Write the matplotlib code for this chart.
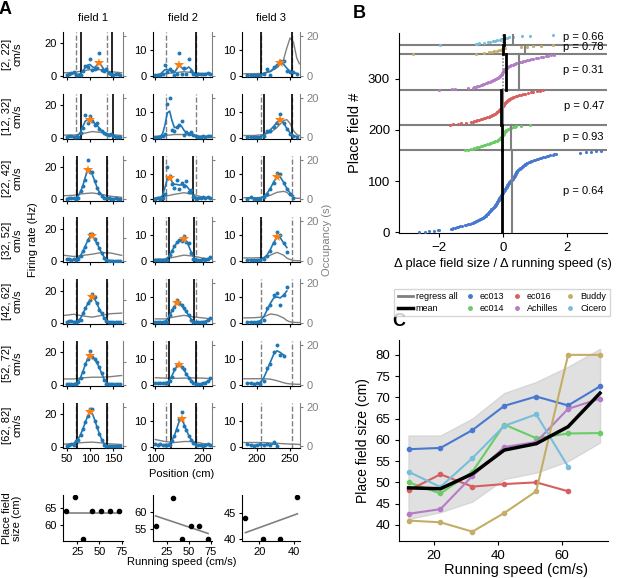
import numpy as np
import matplotlib
matplotlib.use('Agg')
import matplotlib.pyplot as plt
from matplotlib.lines import Line2D
from matplotlib.transforms import blended_transform_factory

plt.rcParams['font.family'] = ['Liberation Sans', 'DejaVu Sans']
plt.rcParams['axes.linewidth'] = 0.8
plt.rcParams['xtick.major.size'] = 3
plt.rcParams['ytick.major.size'] = 3

nan = np.nan

# ---------------- panel A data ----------------
speed_bins = ['[2, 22]', '[12, 32]', '[22, 42]', '[32, 52]',
              '[42, 62]', '[52, 72]', '[62, 82]']
speeds = [12, 22, 32, 42, 52, 62, 72]

pos1 = np.arange(50, 166, 5)
pos2 = np.arange(100, 216, 5)
pos3 = np.arange(185, 261, 5)

rate1 = [
    [0.3, 1.0, 1.5, 2.0, 0.5, 0.3, 0.5, 3.0, 6.0, 5.5, 10.5, 3.5, 4.0, 4.5, 14.0, 3.5, 3.0, 4.0, 1.5, 1.0, 0.5, 0.8, 1.0, 0.5],
    [0.5, 0.8, 1.0, 0.5, 0.3, 0.5, 3.0, 6.0, 14.0, 9.0, 13.0, 10.0, 8.0, 9.0, 5.0, 4.0, 3.0, 2.0, 1.5, 2.0, 1.0, 0.5, 0.5, 0.3],
    [0.3, 0.5, 1.0, 0.5, 0.3, 1.0, 5.0, 8.0, 12.0, 24.0, 17.0, 17.0, 11.0, 7.0, 4.0, 2.0, 1.0, 0.5, 0.5, 0.3, 0.3, 0.5, 0.3, 0.3],
    [1.0, 1.5, 0.5, 1.0, 0.8, 1.5, 3.0, 6.0, 9.0, 13.0, 16.5, 17.0, 13.5, 11.0, 8.0, 5.0, 2.0, 0.5, 0.3, 0.3, 0.2, 0.2, 0.2, 0.2],
    [0.5, 1.0, 1.0, 0.5, 0.8, 1.0, 2.0, 6.0, 9.0, 12.0, 14.0, 18.0, 16.0, 12.0, 8.0, 6.0, 3.0, 1.0, 0.5, 0.3, 0.3, 0.3, 0.3, 0.3],
    [0.5, 0.3, 0.5, 0.3, 0.5, 1.5, 4.0, 8.0, 13.0, 16.0, 21.0, 17.0, 16.0, 14.0, 11.0, 7.0, 3.0, 0.5, 0.3, 0.3, 0.3, 0.3, 0.3, 0.3],
    [0.5, 1.0, 1.5, 1.0, 3.5, 4.0, 7.0, 11.0, 15.0, 19.0, 23.0, 23.0, 16.0, 12.0, 8.0, 4.0, 1.0, 0.3, 0.3, 0.3, 0.3, 0.3, 0.3, 0.3],
]
rate2 = [
    [0.2, 0.3, 0.2, 0.8, 4.0, 1.5, 2.5, 2.0, 0.3, 0.5, 9.0, 0.5, 3.0, 0.5, 6.5, 2.0, 0.5, 0.3, 0.5, 0.8, 0.5, 0.8, 1.0, 0.8],
    [0.3, 0.2, 0.3, 0.5, 1.5, 13.0, 15.5, 3.0, 2.5, 4.0, 5.0, 6.5, 1.0, 2.0, 1.5, 2.0, 1.0, 0.5, 0.3, 0.3, 0.5, 0.3, 0.5, 0.5],
    [0.3, 0.5, 0.3, 0.5, 2.0, 12.5, 9.0, 6.0, 4.5, 7.5, 4.0, 6.5, 5.0, 7.0, 3.0, 3.5, 1.0, 0.3, 0.5, 0.5, 1.0, 0.5, 0.8, 0.5],
    [0.3, 0.3, 0.5, 0.3, 0.5, 0.3, 2.4, 4.0, 5.7, 7.6, 8.3, 8.0, 9.6, 7.5, 7.0, 3.0, 1.0, 0.5, 0.3, 0.5, 0.8, 0.5, 1.0, 1.5],
    [0.3, 0.5, 0.3, 0.5, 0.3, 0.5, 3.0, 5.0, 6.3, 9.0, 7.6, 7.0, 5.7, 4.5, 3.0, 1.0, 0.3, 0.3, 0.5, 0.3, 0.3, 0.5, 1.0, 2.0],
    [0.5, 0.5, 0.5, 0.5, 0.5, 0.5, 1.5, 3.0, 6.2, 7.5, 8.2, 7.0, 6.2, 4.0, 2.7, 1.5, 0.7, 0.3, 0.3, 0.3, 0.5, 0.5, 1.5, 2.5],
    [0.8, 0.5, 1.0, 0.5, 0.5, 0.5, 0.5, 2.0, 4.0, 6.5, 10.6, 13.6, 7.8, 6.5, 4.0, 2.6, 1.5, 0.6, 0.5, 0.5, 0.3, 0.5, 0.8, 0.5],
]
rate3 = [
    [0.1, 0.1, 0.1, 0.1, 0.1, 0.5, 2.6, 0.2, 3.2, 4.0, 5.8, 5.8, 2.0, 1.3, 1.3, 0.6],
    [0.1, 0.1, 0.1, 0.1, 0.1, 0.5, 2.6, 2.6, 4.0, 5.8, 9.0, 5.8, 3.2, 1.3, 0.4, 0.2],
    [0.2, 1.0, 0.2, 0.2, 0.3, 0.8, 2.0, 3.9, 6.5, 10.4, 10.0, 6.5, 3.9, 2.0, 0.6, nan],
    [0.5, 0.3, 0.5, 0.5, 0.5, 0.7, 2.0, 4.0, 7.0, 11.4, 10.0, 7.0, 3.5, nan, nan, nan],
    [0.3, 0.3, 0.5, 0.3, 0.3, 1.3, 5.8, 7.0, 11.0, 11.7, 7.0, 11.0, 14.0, nan, nan, nan],
    [0.8, 0.5, 0.3, 0.5, 0.3, 1.3, 6.5, 8.0, 12.6, 15.6, 11.7, 11.0, nan, nan, nan, nan],
    [0.8, 0.5, 0.3, 0.5, 1.0, 0.5, 0.8, 0.5, 1.7, 0.3, nan, nan, nan, nan, nan, nan],
]

occ_x1 = [45, 65, 85, 105, 125, 145, 168]
occ_x2 = [100, 120, 140, 160, 180, 200, 217]
occ_x3 = [180, 195, 210, 220, 230, 240, 245, 250, 255, 260, 264]
occ1 = [
    [1.5, 1.6, 2.5, 3.2, 3.0, 2.0, 1.5],
    [1.2, 1.2, 2.0, 3.0, 2.5, 1.5, 1.0],
    [1.8, 2.0, 2.8, 3.2, 2.5, 1.5, 1.0],
    [5.0, 4.0, 5.0, 6.0, 7.5, 7.0, 5.0],
    [6.5, 7.5, 6.0, 5.0, 6.5, 8.0, 8.5],
    [5.0, 5.0, 6.0, 6.5, 6.5, 7.0, 8.0],
    [1.2, 1.5, 2.0, 2.2, 1.8, 1.3, 1.0],
]
occ2 = [
    [0.5, 1.0, 1.5, 2.0, 1.5, 1.0, 0.5],
    [0.5, 1.0, 1.5, 1.5, 1.0, 0.5, 0.5],
    [0.8, 1.5, 2.5, 3.3, 2.5, 1.0, 0.5],
    [1.0, 1.0, 2.0, 3.0, 2.5, 1.5, 1.0],
    [2.0, 2.0, 3.0, 3.8, 3.0, 2.5, 2.0],
    [3.5, 3.3, 3.2, 3.3, 3.4, 3.3, 3.0],
    [3.5, 2.5, 2.0, 2.5, 2.5, 1.5, 1.0],
]
occ3 = [
    [1.0, 1.0, 1.2, 2.0, 4.0, 8.0, 14.0, 19.0, 17.0, 9.0, 6.0],
    [1.0, 1.0, 1.5, 2.5, 5.0, 8.5, 9.0, 7.0, 3.5, 1.5, 1.0],
    [0.8, 0.8, 1.0, 2.0, 3.5, 4.0, 3.5, 2.0, 1.0, 0.5, 0.5],
    [1.6, 1.6, 1.8, 3.0, 4.4, 3.0, 1.5, 0.8, 0.3, 0.2, 0.2],
    [2.5, 2.6, 3.0, 4.5, 4.0, 2.5, 1.2, 0.5, 0.3, 0.2, 0.2],
    [3.0, 3.0, 3.0, 2.8, 2.0, 1.0, 0.6, 0.4, 0.3, 0.2, 0.2],
    [2.0, 2.0, 2.0, 1.8, 1.6, 1.4, 1.3, 1.2, 1.2, 1.1, 1.0],
]

# field boundaries (cm): reference (dashed) and per speed bin (solid)
ref_bounds = [(71, 136), (123, 185), (206, 253)]
bounds1 = [(81, 148), (80, 149), (72, 136), (72, 136), (72, 136), (72, 136), (72, 136)]
bounds2 = [(185,), (), (117, 179), (129, 181), (129, 182), (129, 185), (133, 185)]
bounds3 = [(206, 253), (210, 253), (210,), (206,), (), (), ()]
has_field1 = [True] * 7
has_field2 = [True, False, True, True, True, True, True]
has_field3 = [True, True, True, True, False, False, False]

# place field size vs running speed, per field
size_speed1 = [12, 22, 32, 42, 52, 62, 72]
size1 = [64, 68, 56, 64, 64, 64, 64]
size_speed2 = [12, 32, 42, 52, 62, 72]
size2 = [56, 64, 52, 56, 56, 52]
size_speed3 = [12, 22, 32, 42]
size3 = [44, 40, 40, 48]

# ---------------- panel B data ----------------
animals = ['ec013', 'ec014', 'ec016', 'Achilles', 'Buddy', 'Cicero']
animal_colors = ['#4878CF', '#6ACC65', '#D65F5F', '#B47CC7', '#C4AD66', '#77BEDB']
slopes_ec013 = [
    -2.62, -2.45, -2.30, -2.15, -2.02, -2.00, -1.62, -1.58, -1.55, -1.50,
    -1.45, -1.40, -1.35, -1.28, -1.20, -1.15, -1.10, -1.02, -0.98, -0.95,
    -0.92, -0.88, -0.85, -0.82, -0.78, -0.75, -0.72, -0.70, -0.66, -0.63,
    -0.60, -0.58, -0.56, -0.54, -0.53, -0.52, -0.50, -0.48, -0.46, -0.45,
    -0.43, -0.42, -0.40, -0.38, -0.37, -0.36, -0.34, -0.32, -0.30, -0.28,
    -0.27, -0.26, -0.25, -0.24, -0.23, -0.22, -0.21, -0.20, -0.20, -0.19,
    -0.18, -0.17, -0.16, -0.15, -0.14, -0.13, -0.12, -0.11, -0.10, -0.09,
    -0.08, -0.07, -0.06, -0.05, -0.04, -0.03, -0.02, -0.01, 0.00, 0.01,
    0.02, 0.03, 0.04, 0.05, 0.06, 0.07, 0.08, 0.09, 0.10, 0.11,
    0.12, 0.13, 0.14, 0.15, 0.16, 0.17, 0.18, 0.19, 0.20, 0.21,
    0.22, 0.24, 0.26, 0.28, 0.29, 0.30, 0.31, 0.32, 0.33, 0.34,
    0.35, 0.36, 0.37, 0.38, 0.39, 0.40, 0.41, 0.42, 0.43, 0.44,
    0.45, 0.47, 0.48, 0.50, 0.52, 0.54, 0.56, 0.58, 0.60, 0.62,
    0.64, 0.66, 0.68, 0.70, 0.72, 0.74, 0.76, 0.80, 0.84, 0.88,
    0.92, 0.96, 1.00, 1.05, 1.10, 1.15, 1.20, 1.25, 1.30, 1.36,
    1.42, 1.48, 1.55, 1.60, 1.65, 2.40, 2.60, 2.75, 2.90, 3.05,
]
slopes_ec014 = [
    -1.20, -1.10, -1.00, -0.95, -0.90, -0.85, -0.80, -0.75, -0.70, -0.65,
    -0.60, -0.55, -0.50, -0.45, -0.40, -0.36, -0.32, -0.28, -0.24, -0.20,
    -0.17, -0.15, -0.12, -0.10, -0.08, -0.06, -0.05, -0.04, -0.03, -0.02,
    -0.01, 0.00, 0.01, 0.02, 0.03, 0.04, 0.05, 0.06, 0.08, 0.10,
    0.12, 0.15, 0.18, 0.22, 0.26, 0.30, 0.36, 0.42, 0.55, 0.85,
]
slopes_ec016 = [
    -1.65, -1.55, -1.40, -1.30, -1.15, -1.00, -0.95, -0.90, -0.85, -0.80,
    -0.75, -0.70, -0.65, -0.60, -0.55, -0.50, -0.45, -0.42, -0.38, -0.35,
    -0.32, -0.28, -0.25, -0.22, -0.20, -0.18, -0.16, -0.14, -0.12, -0.10,
    -0.08, -0.06, -0.05, -0.04, -0.03, -0.02, -0.01, 0.00, 0.01, 0.02,
    0.03, 0.04, 0.05, 0.06, 0.08, 0.10, 0.12, 0.14, 0.16, 0.18,
    0.20, 0.23, 0.26, 0.29, 0.32, 0.35, 0.40, 0.45, 0.50, 0.55,
    0.62, 0.70, 0.78, 0.86, 0.95, 1.05, 1.15, 1.25,
]
slopes_achilles = [
    -2.00, -1.60, -1.50, -1.10, -0.95, -0.90, -0.85, -0.80, -0.75, -0.70,
    -0.66, -0.62, -0.58, -0.54, -0.50, -0.46, -0.42, -0.38, -0.34, -0.30,
    -0.27, -0.24, -0.21, -0.18, -0.16, -0.14, -0.12, -0.10, -0.08, -0.06,
    -0.05, -0.04, -0.03, -0.02, -0.01, 0.00, 0.01, 0.02, 0.03, 0.04,
    0.05, 0.07, 0.09, 0.11, 0.13, 0.16, 0.19, 0.22, 0.26, 0.30,
    0.34, 0.38, 0.42, 0.47, 0.52, 0.58, 0.64, 0.70, 0.76, 0.82,
    0.88, 0.95, 1.02, 1.10, 1.18, 1.26, 1.34, 1.42, 1.50, 1.60,
]
slopes_buddy = [
    -2.80, -0.85, -0.60, -0.45, -0.35, -0.28, -0.20, -0.12, -0.06, -0.02,
    0.00, 0.02, 0.05, 0.55, 0.75, 0.95, 1.20, 1.55,
]
slopes_cicero = [
    -1.98, -0.85, -0.80, -0.75, -0.60, -0.48, -0.40, -0.32, -0.25, -0.18,
    -0.10, -0.05, 0.00, 0.05, 0.12, 0.20, 0.32, 0.60, 0.85, 1.55,
]
slopes = [slopes_ec013, slopes_ec014, slopes_ec016, slopes_achilles, slopes_buddy, slopes_cicero]
regress_slope = [0.27, 0.25, -0.01, 0.50, 0.68, 0.31]
mean_slope = [-0.03, -0.02, -0.06, 0.08, 0.01, 0.02]
p_values = ['p = 0.64', 'p = 0.93', 'p = 0.47', 'p = 0.31', 'p = 0.78', 'p = 0.66']
p_y = [80, 187, 246, 316, 361, 382]

# ---------------- panel C data ----------------
speed_c = [12, 22, 32, 42, 52, 62, 72]
size_ec013 = [57.8, 58.1, 62.3, 68.0, 70.2, 68.1, 72.6]
size_ec014 = [50.0, 47.4, 52.5, 63.6, 60.4, 61.5, 61.6]
size_ec016 = [48.1, 51.9, 49.0, 49.6, 50.0, 47.9]
size_achilles = [42.6, 43.7, 51.5, 58.3, 59.5, 67.3, 69.7]
size_buddy = [41.0, 40.6, 38.4, 42.8, 47.9, 80.0, 80.0]
size_cicero = [52.5, 48.9, 55.7, 63.3, 66.0, 53.7]
size_mean = [48.7, 48.5, 52.0, 57.6, 59.1, 63.1, 71.0]
band_lo = [41.4, 43.0, 45.5, 50.8, 52.3, 55.0, 59.4]
band_hi = [61.0, 61.0, 65.0, 71.0, 73.6, 77.2, 81.4]
animal_sizes = [size_ec013, size_ec014, size_ec016, size_achilles, size_buddy, size_cicero]

# ---------------- figure ----------------
W, H = 617, 578
fig = plt.figure(figsize=(W / 100, H / 100), dpi=100)


def axes_px(l, t, w, h):
    return fig.add_axes([l / W, 1 - (t + h) / H, w / W, h / H])


def smooth(v, sigma=1.0):
    v = np.asarray(v, float)
    k = np.exp(-0.5 * (np.arange(-3, 4) / sigma) ** 2)
    ok = ~np.isnan(v)
    num = np.convolve(np.where(ok, v, 0.0), k, 'same')
    den = np.convolve(ok.astype(float), k, 'same')
    out = num / den
    out[~ok] = nan
    return out


fields = [
    dict(pos=pos1, rates=rate1, ox=occ_x1, occ=occ1, bounds=bounds1, star=has_field1,
         left=63, width=60, xlim=(42, 171), ylim=(-0.8, 27), yt=[0, 20], xt=[50, 100, 150],
         otop=[22, 22, 22, 38, 38, 38, 22]),
    dict(pos=pos2, rates=rate2, ox=occ_x2, occ=occ2, bounds=bounds2, star=has_field2,
         left=153, width=59, xlim=(95, 219), ylim=(-0.5, 17), yt=[0, 10], xt=[100, 200],
         otop=[22] * 7),
    dict(pos=pos3, rates=rate3, ox=occ_x3, occ=occ3, bounds=bounds3, star=has_field3,
         left=242, width=58, xlim=(177, 265), ylim=(-0.5, 17), yt=[0, 10], xt=[200, 250],
         otop=[22] * 7),
]

row_top = 32
row_step = 61.8
row_h = 45
fs_a = 8

for j, f in enumerate(fields):
    for i in range(7):
        ax = axes_px(f['left'], row_top + i * row_step, f['width'], row_h)
        tw = ax.twinx()
        tw.plot(f['ox'], f['occ'][i], color='0.5', lw=1)
        top = f['otop'][i]
        tw.set_ylim(-0.03 * top, top)
        tw.set_yticks([0, 20])
        tw.tick_params(axis='y', colors='0.5', labelsize=fs_a, length=2.5, pad=2)
        if j < 2:
            tw.set_yticklabels([])
        for s in ['top', 'left', 'bottom']:
            tw.spines[s].set_visible(False)
        tw.spines['right'].set_color('0.5')
        ax.set_zorder(tw.get_zorder() + 1)
        ax.patch.set_visible(False)

        for xd in ref_bounds[j]:
            ax.axvline(xd, color='0.5', ls='--', lw=1)
        for xs in f['bounds'][i]:
            ax.axvline(xs, color='k', lw=1.2)
        r = np.array(f['rates'][i], float)
        sm = smooth(r)
        ax.plot(f['pos'], sm, color='C0', lw=1.2)
        ax.scatter(f['pos'], r, s=8, color='C0', lw=0, zorder=3)
        if f['star'][i]:
            k = np.nanargmax(sm)
            ax.plot(f['pos'][k], sm[k], '*', color='C1', ms=7, mew=0, zorder=4)
        ax.set_xlim(*f['xlim'])
        ax.set_ylim(*f['ylim'])
        ax.set_yticks(f['yt'])
        ax.set_xticks(f['xt'])
        ax.tick_params(labelsize=fs_a, length=2.5, pad=2)
        ax.tick_params(axis='x', labelbottom=(i == 6))
        ax.spines['top'].set_visible(False)
        ax.spines['right'].set_visible(False)

for i, lab in enumerate(speed_bins):
    fig.text(12 / W, 1 - (row_top + i * row_step + row_h / 2) / H, lab + '\ncm/s',
             rotation=90, ha='center', va='center', fontsize=fs_a, linespacing=1.1)

for j, name in enumerate(['field 1', 'field 2', 'field 3']):
    f = fields[j]
    fig.text((f['left'] + f['width'] / 2) / W, 1 - 18 / H, name,
             ha='center', va='center', fontsize=fs_a)

fig.text(33 / W, 1 - 240 / H, 'Firing rate (Hz)', rotation=90, ha='center', va='center', fontsize=fs_a)
fig.text(327 / W, 1 - 240 / H, 'Occupancy (s)', rotation=90, ha='center', va='center',
         fontsize=fs_a, color='0.5')
fig.text(182 / W, 1 - 474 / H, 'Position (cm)', ha='center', va='center', fontsize=fs_a)

# size vs speed row
size_rows = [
    (size_speed1, size1, (9, 76.5), (55.4, 68.6), [25, 50, 75], [60, 65]),
    (size_speed2, size2, (9, 76.5), (51.5, 65.0), [25, 50, 75], [55, 60]),
    (size_speed3, size3, (10, 43.5), (39.6, 48.4), [20, 40], [40, 45]),
]
for j, (sx, sy, xl, yl, xtk, ytk) in enumerate(size_rows):
    f = fields[j]
    ax = axes_px(f['left'], 495, f['width'], 46)
    ax.scatter(sx, sy, s=9, color='k', zorder=3)
    b, a = np.polyfit(sx, sy, 1)
    xx = np.array([min(sx), max(sx)])
    ax.plot(xx, a + b * xx, color='0.5', lw=1.2)
    ax.set_xlim(*xl)
    ax.set_ylim(*yl)
    ax.set_xticks(xtk)
    ax.set_yticks(ytk)
    ax.tick_params(labelsize=fs_a, length=2.5, pad=2)
    ax.spines['top'].set_visible(False)
    ax.spines['right'].set_visible(False)

fig.text(12 / W, 1 - 518 / H, 'Place field\nsize (cm)', rotation=90, ha='center', va='center',
         fontsize=fs_a, linespacing=1.1)
fig.text(182 / W, 1 - 562 / H, 'Running speed (cm/s)', ha='center', va='center', fontsize=fs_a)

# ---------------- panel B ----------------
axB = axes_px(399, 33, 208, 200)
trB = blended_transform_factory(axB.transAxes, axB.transData)
start = 0
for g in range(len(animals)):
    vals = slopes[g]
    n = len(vals)
    y = start + np.arange(n)
    axB.scatter(vals, y, s=5, color=animal_colors[g], lw=0, zorder=3)
    axB.plot([regress_slope[g]] * 2, [start, start + n], color='0.5', lw=1.5, zorder=4)
    axB.plot([mean_slope[g]] * 2, [start, start + n], color='k', lw=2, zorder=5)
    if start > 0:
        axB.axhline(start, color='0.5', lw=1.5, zorder=2)
    axB.text(0.985, p_y[g], p_values[g], transform=trB, ha='right', va='center', fontsize=8)
    start += n
axB.axvline(0, color='0.55', ls=(0, (1, 1)), lw=1.2, zorder=4)
axB.set_xlim(-3.25, 3.25)
axB.set_ylim(-1, 389)
axB.set_xticks([-2, 0, 2])
axB.set_yticks([0, 100, 200, 300])
axB.tick_params(labelsize=9.5)
axB.spines['top'].set_visible(False)
axB.spines['right'].set_visible(False)
axB.set_xlabel('\u0394 place field size / \u0394 running speed (s)', fontsize=9.3, labelpad=3)
axB.set_ylabel('Place field #', fontsize=10.5)

# ---------------- panel C ----------------
axC = axes_px(399, 340, 209, 201)
axC.fill_between(speed_c, band_lo, band_hi, color='0.88', lw=1, edgecolor='0.84', zorder=1)
for g in range(len(animals)):
    sz = animal_sizes[g]
    axC.plot(speed_c[:len(sz)], sz, '-o', color=animal_colors[g], lw=1.5, ms=3, zorder=3)
axC.plot(speed_c, size_mean, color='k', lw=2.5, zorder=4)
axC.set_xlim(9, 74.5)
axC.set_ylim(36.2, 83.5)
axC.set_xticks([20, 40, 60])
axC.set_yticks([40, 45, 50, 55, 60, 65, 70, 75, 80])
axC.tick_params(labelsize=9.5)
axC.spines['top'].set_visible(False)
axC.spines['right'].set_visible(False)
axC.set_xlabel('Running speed (cm/s)', fontsize=10.5)
axC.xaxis.set_label_coords(0.56, -0.11)
axC.set_ylabel('Place field size (cm)', fontsize=10)

handles = [Line2D([], [], color='0.5', lw=2), Line2D([], [], color='k', lw=2.5)]
labels = ['regress all', 'mean']
for g in range(len(animals)):
    handles.append(Line2D([], [], marker='o', ls='', color=animal_colors[g], ms=2.5))
    labels.append(animals[g])
fig.legend(handles, labels, ncol=4, loc='upper right', bbox_to_anchor=(615 / W, 1 - 284 / H),
           fontsize=6.5, handlelength=1.7, columnspacing=0.5, handletextpad=0.3,
           borderpad=0.4, labelspacing=0.3, frameon=True, edgecolor='0.8', fancybox=False)

# panel letters
fig.text(5 / W, 1 - 9 / H, 'A', fontsize=13, weight='bold', ha='center', va='center')
fig.text(359 / W, 1 - 13 / H, 'B', fontsize=13, weight='bold', ha='center', va='center')
fig.text(399 / W, 1 - 322 / H, 'C', fontsize=13, weight='bold', ha='center', va='center')

fig.savefig('out.png', dpi=100)
